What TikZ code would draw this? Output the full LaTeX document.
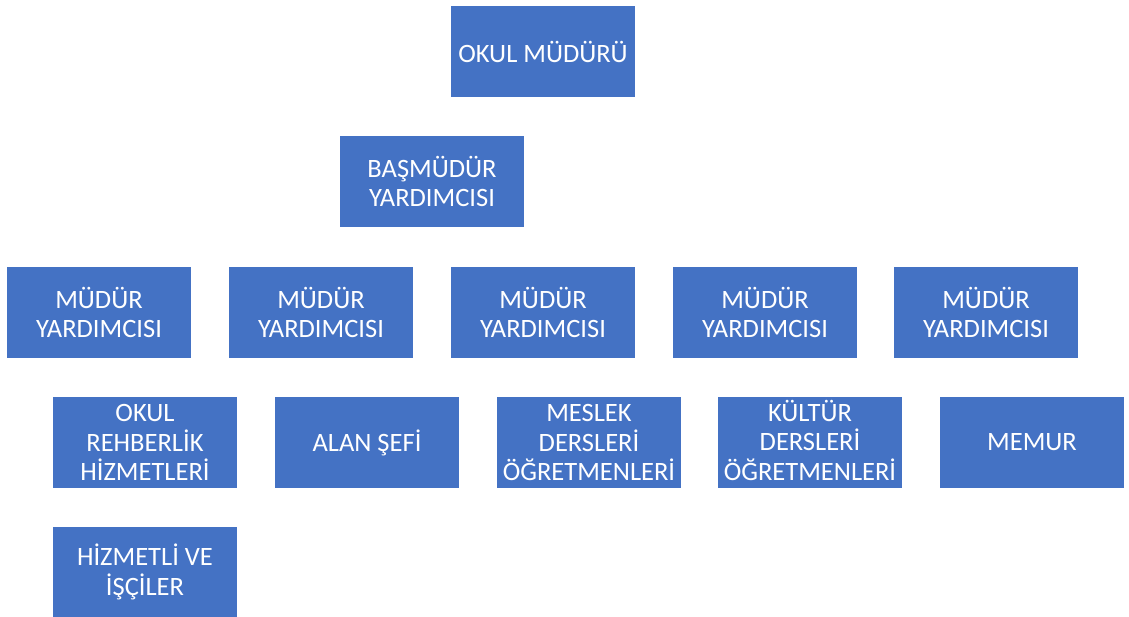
\documentclass[tikz,border=0pt]{standalone}
\usepackage{fontspec}
\setmainfont{Carlito}
\definecolor{boxblue}{HTML}{4472C4}
\begin{document}
\begin{tikzpicture}[x=1pt,y=-1pt,
  orgbox/.style={fill=boxblue,draw=none,text=white,minimum width=184pt,minimum height=91pt,
    inner sep=0pt,align=center,font=\fontsize{26.5}{29.5}\selectfont}]
\useasboundingbox (0,0) rectangle (1129,617);
\node[orgbox] (mudur) at (543,52) {OKUL MÜDÜRÜ};
\node[orgbox] (bas) at (432,181.5) {BAŞMÜDÜR\\YARDIMCISI};
\node[orgbox] (y1) at (99,312.5) {MÜDÜR\\YARDIMCISI};
\node[orgbox] (y2) at (321,312.5) {MÜDÜR\\YARDIMCISI};
\node[orgbox] (y3) at (543,312.5) {MÜDÜR\\YARDIMCISI};
\node[orgbox] (y4) at (765,312.5) {MÜDÜR\\YARDIMCISI};
\node[orgbox] (y5) at (986,312.5) {MÜDÜR\\YARDIMCISI};
\node[orgbox] (rehber) at (145,442.5) {OKUL\\REHBERLİK\\HİZMETLERİ};
\node[orgbox] (alan) at (367,442.5) {ALAN ŞEFİ};
\node[orgbox] (meslek) at (589,442.5) {MESLEK\\DERSLERİ\\ÖĞRETMENLERİ};
\node[orgbox] (kultur) at (810,442.5) {\smash{KÜLTÜR}\vphantom{M}\\DERSLERİ\\ÖĞRETMENLERİ};
\node[orgbox] (memur) at (1032,442.5) {MEMUR};
\node[orgbox] (hizmetli) at (145,572) {HİZMETLİ VE\\İŞÇİLER};
\end{tikzpicture}
\end{document}
